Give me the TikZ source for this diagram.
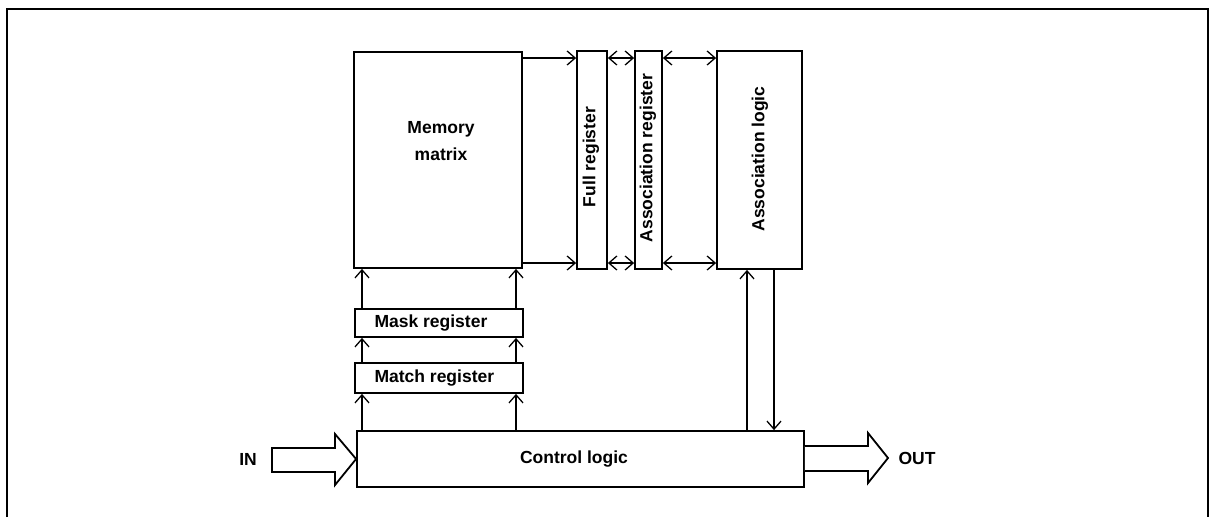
\documentclass[tikz,border=0pt]{standalone}
\usepackage{fontspec}
\setmainfont{Liberation Sans}
\usetikzlibrary{arrows.meta}
\begin{document}
\begin{tikzpicture}[x=1pt,y=-1pt,
  blk/.style={draw,line width=1.8pt,inner sep=0pt},
  lbl/.style={font=\fontsize{17.5}{27}\selectfont\bfseries},
  conn/.style={line width=1.4pt,-{Straight Barb[length=8pt,width=14pt,line width=1.3pt]}},
  conn2/.style={line width=1.4pt,{Straight Barb[length=8pt,width=14pt,line width=1.3pt]}-{Straight Barb[length=8pt,width=14pt,line width=1.3pt]}},
  fat/.style={draw,line width=1.8pt,line join=miter,fill=white}]
\useasboundingbox (0,0) rectangle (1215,517);
\draw[line width=2.6pt] (7,517) -- (7,9) -- (1208,9) -- (1208,517);
% boxes
\node[blk,minimum width=168pt,minimum height=216pt] (mem) at (438,160) {};
\node[lbl,align=center] (memt) at (441,141) {Memory\\matrix};
\node[blk,minimum width=30pt,minimum height=218pt] (full) at (592,160) {};
\node[lbl,rotate=90] (fullt) at (591,157) {Full register};
\node[blk,minimum width=27pt,minimum height=218pt] (areg) at (648.5,160) {};
\node[lbl,rotate=90] (aregt) at (648,158) {Association register};
\node[blk,minimum width=85pt,minimum height=218pt] (alog) at (759.5,160) {};
\node[lbl,rotate=90] (alogt) at (760,159) {Association logic};
\node[blk,minimum width=168pt,minimum height=28pt] (mask) at (439,323) {};
\node[lbl,anchor=west] (maskt) at (371,323) {Mask register};
\node[blk,minimum width=168pt,minimum height=30pt] (match) at (439,378) {};
\node[lbl,anchor=west] (matcht) at (371,378) {Match register};
\node[blk,minimum width=447pt,minimum height=56pt] (ctl) at (580.5,459) {};
\node[lbl] (ctlt) at (574,459) {Control logic};
% top connectors
\draw[conn] (mem.north east |- 0,58) -- (full.west |- 0,58);
\draw[conn] (mem.north east |- 0,263) -- (full.west |- 0,263);
\draw[conn2] (full.east |- 0,58) -- (areg.west |- 0,58);
\draw[conn2] (full.east |- 0,263) -- (areg.west |- 0,263);
\draw[conn2] (areg.east |- 0,58) -- (alog.west |- 0,58);
\draw[conn2] (areg.east |- 0,263) -- (alog.west |- 0,263);
% vertical connectors on the left
\draw[conn] (ctl.north -| 362,0) -- (match.south -| 362,0);
\draw[conn] (match.north -| 362,0) -- (mask.south -| 362,0);
\draw[conn] (mask.north -| 362,0) -- (mem.south -| 362,0);
\draw[conn] (ctl.north -| 516,0) -- (match.south -| 516,0);
\draw[conn] (match.north -| 516,0) -- (mask.south -| 516,0);
\draw[conn] (mask.north -| 516,0) -- (mem.south -| 516,0);
% association logic <-> control
\draw[conn] (ctl.north -| 747,0) -- (alog.south -| 747,0);
\draw[conn] (alog.south -| 774,0) -- (ctl.north -| 774,0);
% block arrows
\coordinate (intip) at (ctl.west);
\draw[fat] (272,448) -- (335,448) -- (335,434) -- (intip) -- (335,485) -- (335,472) -- (272,472) -- cycle;
\node[lbl] (int) at (248,459) {IN};
\coordinate (outbase) at (ctl.east);
\draw[fat] (outbase |- 0,446) -- (868,446) -- (868,433) -- (888,458) -- (868,483) -- (868,471) -- (outbase |- 0,471);
\node[lbl] (outt) at (917,458) {OUT};
\end{tikzpicture}
\end{document}
